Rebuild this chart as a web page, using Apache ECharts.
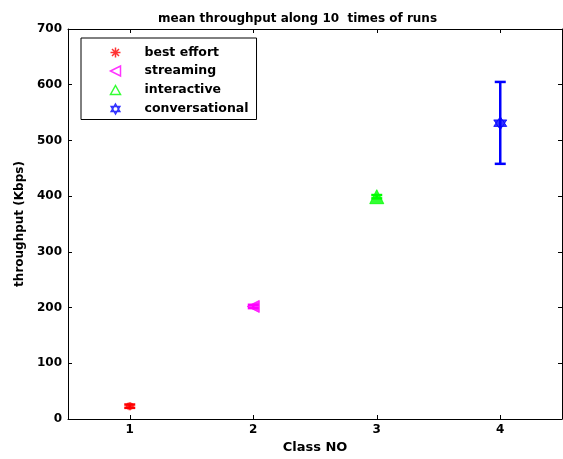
<!DOCTYPE html>
<html><head><meta charset="utf-8">
<script src="https://cdn.jsdelivr.net/npm/echarts@6/dist/echarts.min.js"></script>
<style>html,body{margin:0;padding:0;background:#fff}#c{width:563px;height:459px}</style>
</head><body><div id="c"></div>
<script>
const classes = [1, 2, 3, 4];
const seriesNames = ['best effort', 'streaming', 'interactive', 'conversational'];
const meanValues = [23, 202, 399, 531];
const lowValues = [20, 199, 396, 458];
const highValues = [26, 205, 402, 605];
const colors = ['#ff0000', '#ff00ff', '#00ff00', '#0000ff'];
const yTicks = [0, 100, 200, 300, 400, 500, 600, 700];
const xTicks = [1, 2, 3, 4];

const symbols = [
  'path://M0,-1L0,1M-1,0L1,0M-0.7,-0.7L0.7,0.7M-0.7,0.7L0.7,-0.7',
  'path://M-1,0L1,-1L1,1Z',
  'path://M0,-1L1,0.8L-1,0.8Z',
  'path://M0,-1L0.866,0.5L-0.866,0.5ZM0,1L-0.866,-0.5L0.866,-0.5Z'
];
const markerSizes = [8, 12, 14, 13];
const FONT = 'DejaVu Sans';

const chart = echarts.init(document.getElementById('c'), null, {renderer: 'canvas'});

const series = [];
seriesNames.forEach((n, i) => {
  series.push({
    name: n,
    type: 'scatter',
    data: [[classes[i], meanValues[i]]],
    symbol: symbols[i],
    symbolSize: markerSizes[i],
    itemStyle: {color: colors[i], borderColor: colors[i], borderWidth: i === 0 ? 2.5 : 1},
    z: 3
  });
  series.push({
    type: 'custom',
    name: n,
    data: [[classes[i], lowValues[i], highValues[i]]],
    renderItem: function (params, api) {
      const x = api.value(0);
      const lo = api.coord([x, api.value(1)]);
      const hi = api.coord([x, api.value(2)]);
      const w = 5.5;
      return {
        type: 'group',
        children: [
          {type: 'line', shape: {x1: lo[0], y1: lo[1], x2: hi[0], y2: hi[1]}, style: {stroke: colors[i], lineWidth: 2.5}},
          {type: 'line', shape: {x1: lo[0] - w, y1: lo[1], x2: lo[0] + w, y2: lo[1]}, style: {stroke: colors[i], lineWidth: 2.5}},
          {type: 'line', shape: {x1: hi[0] - w, y1: hi[1], x2: hi[0] + w, y2: hi[1]}, style: {stroke: colors[i], lineWidth: 2.5}}
        ]
      };
    },
    z: 2
  });
});

const axisLine = {show: true, onZero: false, lineStyle: {color: '#000', width: 1}};
chart.setOption({
  animation: false,
  backgroundColor: '#fff',
  title: {
    text: 'mean throughput along 10  times of runs',
    left: 153, top: 8,
    textStyle: {fontFamily: FONT, fontSize: 12, fontWeight: 'bold', color: '#000'}
  },
  legend: {
    data: seriesNames.map((n, i) => ({name: n, icon: symbols[i], itemStyle: {color: i === 0 ? colors[i] : 'none', borderColor: colors[i], borderWidth: 1.5}})),
    orient: 'vertical',
    left: 81, top: 38,
    padding: [8, 8, 3, 27],
    itemGap: 4.5,
    itemWidth: 10, itemHeight: 10,
    borderColor: '#000', borderWidth: 1,
    backgroundColor: '#fff',
    textStyle: {fontFamily: FONT, fontSize: 12.5, fontWeight: 'bold', color: '#000', padding: [0, 0, 0, 19]},
    selectedMode: false
  },
  grid: {left: 68, right: 1, top: 29, bottom: 35},
  xAxis: [{
    type: 'value', min: 0.5, max: 4.5,
    name: 'Class NO', nameLocation: 'middle', nameGap: 22,
    nameTextStyle: {fontFamily: FONT, fontSize: 13, fontWeight: 'bold', color: '#000'},
    axisLine: axisLine,
    axisTick: {show: true, inside: true, length: 4, customValues: xTicks, lineStyle: {color: '#000'}},
    axisLabel: {customValues: xTicks, fontFamily: FONT, fontSize: 12, fontWeight: 'bold', color: '#000', margin: 5},
    splitLine: {show: false}
  }, {
    type: 'value', min: 0.5, max: 4.5, position: 'top',
    axisLine: axisLine,
    axisTick: {show: true, inside: true, length: 4, customValues: xTicks, lineStyle: {color: '#000'}},
    axisLabel: {show: false},
    splitLine: {show: false}
  }],
  yAxis: [{
    type: 'value', min: 0, max: 700, interval: 100,
    name: 'throughput (Kbps)', nameLocation: 'middle', nameGap: 40,
    nameTextStyle: {fontFamily: FONT, fontSize: 12, fontWeight: 'bold', color: '#000'},
    axisLine: axisLine,
    axisTick: {show: true, inside: true, length: 4, lineStyle: {color: '#000'}},
    axisLabel: {fontFamily: FONT, fontSize: 12, fontWeight: 'bold', color: '#000', margin: 6},
    splitLine: {show: false}
  }, {
    type: 'value', min: 0, max: 700, interval: 100, position: 'right',
    axisLine: axisLine,
    axisTick: {show: true, inside: true, length: 4, lineStyle: {color: '#000'}},
    axisLabel: {show: false},
    splitLine: {show: false}
  }],
  series: series
});
</script></body></html>
